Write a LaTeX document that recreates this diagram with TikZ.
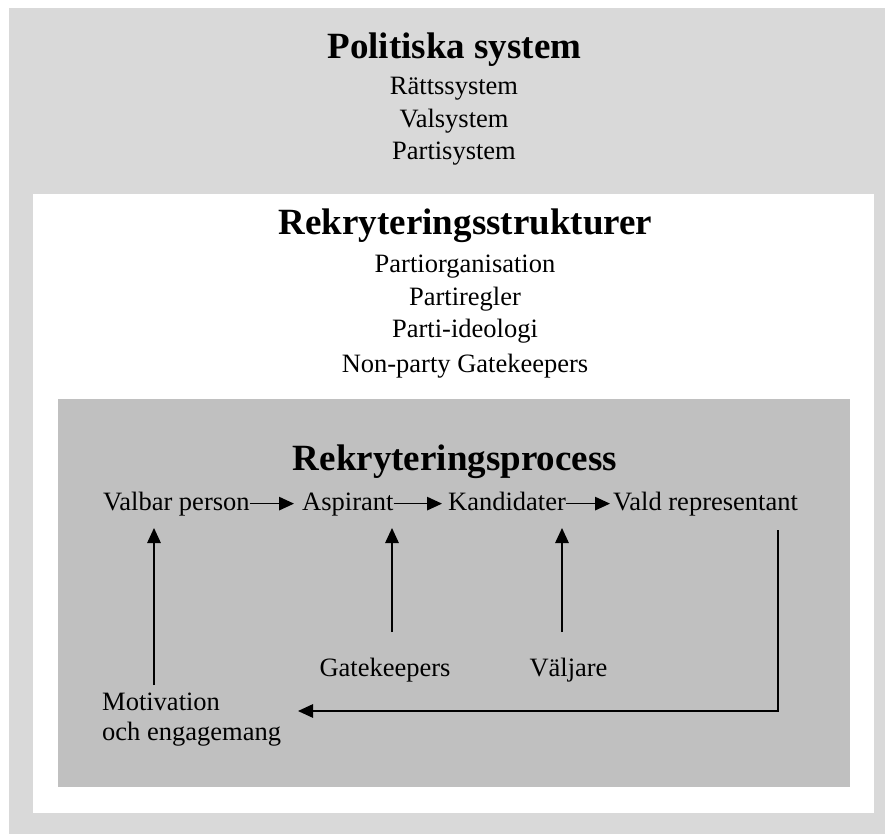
\documentclass[tikz,border=0pt]{standalone}
\usepackage{fontspec}
\setmainfont{Liberation Serif}
\usetikzlibrary{arrows.meta}
\definecolor{lightbg}{HTML}{D9D9D9}
\definecolor{darkbg}{HTML}{C0C0C0}
\tikzset{
  reg/.style={inner sep=0pt, font=\fontsize{26.5}{32}\selectfont, anchor=base},
  ttl/.style={inner sep=0pt, font=\fontsize{37}{44}\selectfont\bfseries, anchor=base},
  arr/.style={line width=1.3pt, -{Triangle[length=15pt,width=13.5pt]}},
}
\begin{document}
\begin{tikzpicture}[x=1pt,y=-1pt]
\useasboundingbox (0,0) rectangle (885,834);
\fill[lightbg] (9,8) rectangle (885,834);
\fill[white] (33,194) rectangle (874,813);
\fill[darkbg] (58,399) rectangle (850,787);

\node[ttl] (pol) at (454.5,59) {Politiska system};
\node[reg] (r1) at (454,95) {Rättssystem};
\node[reg] (r2) at (454,128) {Valsystem};
\node[reg] (r3) at (454,160) {Partisystem};

\node[ttl] (rek) at (465.5,235) {Rekryteringsstrukturer};
\node[reg] (p1) at (465,272) {Partiorganisation};
\node[reg] (p2) at (465,305) {Partiregler};
\node[reg] (p3) at (465,337) {Parti-ideologi};
\node[reg] (p4) at (465,372) {Non-party Gatekeepers};

\node[ttl] (proc) at (455,470) {Rekryteringsprocess};
\node[reg, anchor=base west] (valbar) at (103,510) {Valbar person};
\node[reg, anchor=base west] (asp) at (302,510) {Aspirant};
\node[reg, anchor=base west] (kand) at (448,510) {Kandidater};
\node[reg, anchor=base west] (vald) at (613,510) {Vald representant};

\node[reg] (gate) at (385,676) {Gatekeepers};
\node[reg] (valj) at (568.5,676) {Väljare};
\node[reg, anchor=base west] (mot1) at (102,710) {Motivation};
\node[reg, anchor=base west] (mot2) at (102,740) {och engagemang};

\draw[arr, shorten >=8pt] (valbar.east) -- (valbar.east -| asp.west);
\draw[arr, shorten >=6pt] (asp.east |- valbar.east) -- (valbar.east -| kand.west);
\draw[arr, shorten >=3pt] (kand.east |- valbar.east) -- (valbar.east -| vald.west);

\coordinate (m1) at (154,685);
\coordinate (m2) at (154,528);
\coordinate (g1) at (392,632);
\coordinate (g2) at (392,528);
\coordinate (v1) at (562,632);
\coordinate (v2) at (562,528);
\coordinate (rt) at (778,530);
\coordinate (rb) at (778,711);
\coordinate (re) at (298,711);
\draw[arr] (m1) -- (m2);
\draw[arr] (g1) -- (g2);
\draw[arr] (v1) -- (v2);
\draw[arr] (rt) -- (rb) -- (re);
\end{tikzpicture}
\end{document}
